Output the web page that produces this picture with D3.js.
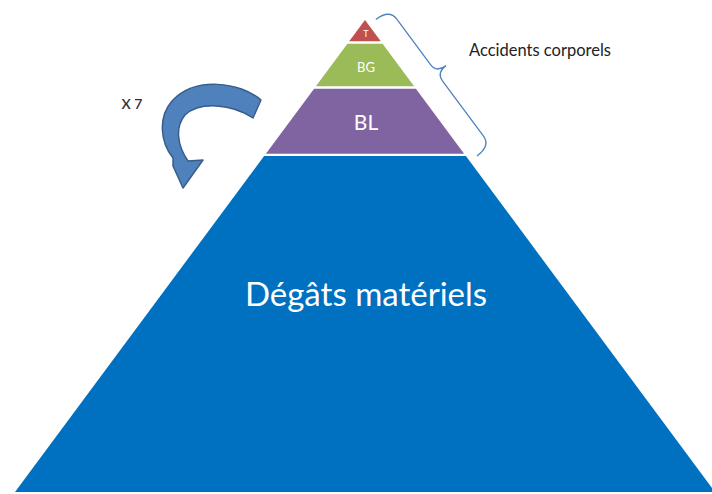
<!DOCTYPE html>
<html lang="fr">
<head>
  <meta charset="UTF-8">
  <title>Pyramide des accidents</title>
  <style>
    body { margin: 0; background: #fff; }
    svg { display: block; font-family: Lato, "Open Sans", sans-serif; }
  </style>
  <script src="https://d3js.org/d3.v7.min.js"></script>
</head>
<body>
  <svg id="chart" width="712" height="494"></svg>
  <script>
    // Levels of the pyramid, top to bottom (relative heights)
    const levels = ["T", "BG", "BL", "Dégâts matériels"];
    const heights = [1, 2, 3, 15];
    const colors = ["#c0504d", "#9bbb59", "#8064a2", "#0070c0"];
    const fontSizes = [9, 13, 21, 33];
    const braceLabel = "Accidents corporels";
    const ratioLabel = "X 7";

    const width = 712, height = 494;
    const cx = 365, apexY = 20, baseY = 492, baseHalf = 350;
    const gap = 1.2;

    const cum = d3.cumsum(heights);
    const total = cum[cum.length - 1];
    const y = d3.scaleLinear().domain([0, total]).range([apexY, baseY]);
    const half = d3.scaleLinear().domain([0, total]).range([0, baseHalf]);

    const svg = d3.select("#chart");

    const rows = levels.map((name, i) => ({
      name, color: colors[i], size: fontSizes[i],
      v0: i === 0 ? 0 : cum[i - 1], v1: cum[i]
    }));

    // trapezoids
    svg.append("g").selectAll("path")
      .data(rows)
      .join("path")
      .attr("fill", d => d.color)
      .attr("d", d => {
        const t = d.v0 === 0 ? y(d.v0) : y(d.v0) + gap;
        const b = d.v1 === total ? y(d.v1) : y(d.v1) - gap;
        const ht = half(y.invert(t)), hb = half(y.invert(b));
        const p = d3.path();
        p.moveTo(cx - ht, t);
        p.lineTo(cx + ht, t);
        p.lineTo(cx + hb, b);
        p.lineTo(cx - hb, b);
        p.closePath();
        return p.toString();
      });

    // labels
    const labelY = [37, 72, 130, 306];
    svg.append("g").selectAll("text")
      .data(rows)
      .join("text")
      .attr("x", cx + 1)
      .attr("y", (d, i) => labelY[i])
      .attr("text-anchor", "middle")
      .attr("fill", "#fff")
      .attr("font-size", d => d.size)
      .text(d => d.name);

    // curly brace along the right edge, from the apex down to the bottom of BL
    const edgeAngle = Math.atan2(y(cum[2]) - apexY, half(cum[2])) * 180 / Math.PI;
    const edgeLen = Math.hypot(y(cum[2]) - apexY, half(cum[2]));
    const s0 = 6, s1 = edgeLen + 8, off = 26, mid = (s0 + s1) / 2 - 6;
    const bp = d3.path();
    bp.moveTo(s0, -9);
    bp.quadraticCurveTo(s0, -off, s0 + 12, -off);
    bp.lineTo(mid - 10, -off);
    bp.quadraticCurveTo(mid, -off, mid, -off - 12);
    bp.quadraticCurveTo(mid, -off, mid + 10, -off);
    bp.lineTo(s1 - 12, -off);
    bp.quadraticCurveTo(s1, -off, s1, -9);
    svg.append("path")
      .attr("transform", `translate(${cx},${apexY}) rotate(${edgeAngle})`)
      .attr("d", bp.toString())
      .attr("fill", "none")
      .attr("stroke", "#4f81bd")
      .attr("stroke-width", 1.3);

    svg.append("text")
      .attr("x", 469)
      .attr("y", 56)
      .attr("font-size", 16.5)
      .attr("fill", "#222")
      .text(braceLabel);

    // curved arrow
    const ap = d3.path();
    ap.moveTo(261, 100);
    ap.bezierCurveTo(240, 82, 195, 76, 172, 101);
    ap.bezierCurveTo(158, 117, 160, 142, 173, 158);
    ap.lineTo(173, 166);
    ap.lineTo(183, 188);
    ap.lineTo(203, 160);
    ap.lineTo(188, 161);
    ap.bezierCurveTo(177, 145, 175, 127, 185, 115);
    ap.bezierCurveTo(200, 101, 232, 104, 253, 118);
    ap.closePath();
    svg.append("path")
      .attr("d", ap.toString())
      .attr("fill", "#4f81bd")
      .attr("stroke", "#385d8a")
      .attr("stroke-width", 1.5)
      .attr("stroke-linejoin", "round");

    svg.append("text")
      .attr("x", 132)
      .attr("y", 109)
      .attr("text-anchor", "middle")
      .attr("font-size", 14)
      .attr("font-weight", 600)
      .attr("fill", "#333")
      .text(ratioLabel);
  </script>
</body>
</html>
